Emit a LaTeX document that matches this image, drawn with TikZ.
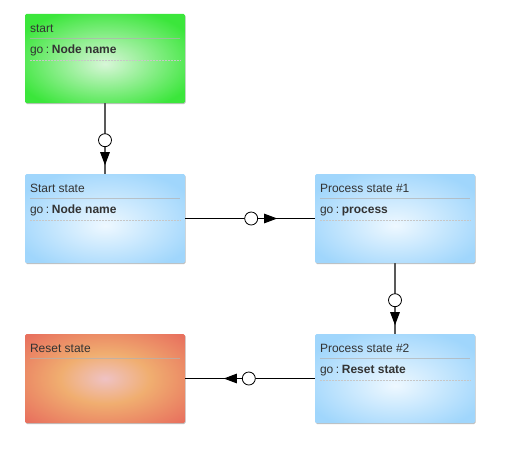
\documentclass[tikz,border=0pt]{standalone}
\usepackage{fontspec}
\setmainfont{Liberation Sans}
\usetikzlibrary{arrows.meta,decorations.markings,shadows}
\definecolor{bluein}{HTML}{EEF8FF}
\definecolor{blueout}{HTML}{A0D6FC}
\definecolor{greenin}{HTML}{D8F6D8}
\definecolor{greenout}{HTML}{3BE63B}
\definecolor{redin}{HTML}{EFC2C4}
\definecolor{redmid}{HTML}{F0AE70}
\definecolor{redout}{HTML}{E8715E}
\definecolor{txt}{HTML}{333333}
\newcommand{\gosep}{\hspace{2.6pt}:\hspace{2.6pt}}
\pgfdeclareradialshading{blueshade}{\pgfpoint{0bp}{-4bp}}{color(0bp)=(bluein); color(30bp)=(blueout); color(50bp)=(blueout)}
\pgfdeclareradialshading{greenshade}{\pgfpoint{0bp}{-3bp}}{color(0bp)=(greenin); color(30bp)=(greenout); color(50bp)=(greenout)}
\pgfdeclareradialshading{redshade}{\pgfpoint{0bp}{0bp}}{color(0bp)=(redin); color(14bp)=(redmid); color(34bp)=(redout); color(50bp)=(redout)}
\tikzset{
  statebox/.style={rectangle, rounded corners=1.5pt, minimum width=160pt, minimum height=89pt, inner sep=0pt,
    drop shadow={shadow xshift=0.6pt, shadow yshift=-1pt, opacity=0.25, fill=black}},
  titletext/.style={anchor=base west, inner sep=0pt, text=txt, font=\fontsize{12}{14}\selectfont},
  sepline/.style={draw=white!70!black, line width=0.7pt, opacity=0.7},
  dotline/.style={draw=black!22, line width=0.5pt, dash pattern=on 0.6pt off 0.9pt},
  ring/.style={draw=black, fill=white, line width=0.8pt},
  conn/.style 2 args={line width=1pt, postaction={decorate}, decoration={markings,
      mark=at position #1 with {\draw[ring] (0,0) circle (6.5pt);},
      mark=at position #2 with {\arrow[black]{Triangle[length=13pt,width=9.5pt]}}}},
}
\begin{document}
\begin{tikzpicture}[x=1pt, y=-1pt]
\useasboundingbox (0,0) rectangle (505,452);
% boxes
\node[statebox, shading=greenshade] (start) at (105,58.5) {};
\node[statebox, shading=blueshade] (s1) at (105,218.5) {};
\node[statebox, shading=blueshade] (p1) at (395,218.5) {};
\node[statebox, shading=blueshade] (p2) at (395,378.5) {};
\node[statebox, shading=redshade] (rs) at (105,378.5) {};
% texts and separators
\node[titletext] (startT) at ([xshift=5pt,yshift=-19pt]start.north west) {start};
\draw[sepline] ([xshift=5pt,yshift=-25pt]start.north west) -- ([xshift=-5pt,yshift=-25pt]start.north east);
\node[titletext] (startG) at ([xshift=5pt,yshift=-40pt]start.north west) {go\gosep\textbf{Node name}};
\draw[dotline] ([xshift=5pt,yshift=-46pt]start.north west) -- ([xshift=-5pt,yshift=-46pt]start.north east);

\node[titletext] (s1T) at ([xshift=5pt,yshift=-19pt]s1.north west) {Start state};
\draw[sepline] ([xshift=5pt,yshift=-25pt]s1.north west) -- ([xshift=-5pt,yshift=-25pt]s1.north east);
\node[titletext] (s1G) at ([xshift=5pt,yshift=-40pt]s1.north west) {go\gosep\textbf{Node name}};
\draw[dotline] ([xshift=5pt,yshift=-46pt]s1.north west) -- ([xshift=-5pt,yshift=-46pt]s1.north east);

\node[titletext] (p1T) at ([xshift=5pt,yshift=-19pt]p1.north west) {Process state \#1};
\draw[sepline] ([xshift=5pt,yshift=-25pt]p1.north west) -- ([xshift=-5pt,yshift=-25pt]p1.north east);
\node[titletext] (p1G) at ([xshift=5pt,yshift=-40pt]p1.north west) {go\gosep\textbf{process}};
\draw[dotline] ([xshift=5pt,yshift=-46pt]p1.north west) -- ([xshift=-5pt,yshift=-46pt]p1.north east);

\node[titletext] (p2T) at ([xshift=5pt,yshift=-19pt]p2.north west) {Process state \#2};
\draw[sepline] ([xshift=5pt,yshift=-25pt]p2.north west) -- ([xshift=-5pt,yshift=-25pt]p2.north east);
\node[titletext] (p2G) at ([xshift=5pt,yshift=-40pt]p2.north west) {go\gosep\textbf{Reset state}};
\draw[dotline] ([xshift=5pt,yshift=-46pt]p2.north west) -- ([xshift=-5pt,yshift=-46pt]p2.north east);

\node[titletext] (rsT) at ([xshift=5pt,yshift=-19pt]rs.north west) {Reset state};
\draw[sepline] ([xshift=5pt,yshift=-25pt]rs.north west) -- ([xshift=-5pt,yshift=-25pt]rs.north east);
% connectors
\draw[conn={37pt}{62pt}, draw=black!65, line width=1.3pt] (start.south) -- (s1.north);
\draw[conn={66pt}{92pt}] (s1.east) -- (p1.west);
\draw[conn={37pt}{62pt}, draw=black!65, line width=1.3pt] (p1.south) -- (p2.north);
\draw[conn={66pt}{91pt}] (p2.west) -- (rs.east);
\end{tikzpicture}
\end{document}
